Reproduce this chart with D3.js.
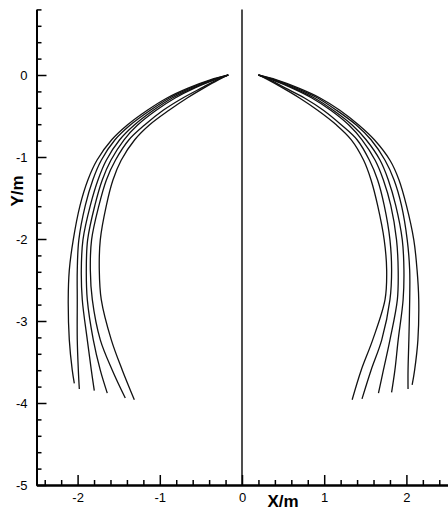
<!DOCTYPE html>
<html>
<head>
<meta charset="utf-8">
<script src="https://cdn.jsdelivr.net/npm/d3@7"></script>
<style>
  html, body { margin: 0; padding: 0; background: #fff; }
  svg { display: block; }
  text { font-family: "Liberation Sans", Arial, sans-serif; fill: #000; }
</style>
</head>
<body>
<svg id="chart" width="448" height="515"></svg>
<script>
// ---- data ----
const xMajorTicks = [-2, -1, 0, 1, 2];
const yMajorTicks = [-5, -4, -3, -2, -1, 0];
const xTickLabels = ["-2", "-1", "0", "1", "2"];
const yTickLabels = ["-5", "-4", "-3", "-2", "-1", "0"];

// shared Y levels (m) along each curve, followed by each curve's own end point
const yLevels = [0, -0.06, -0.16, -0.28, -0.43, -0.61, -0.79, -1.04, -1.28, -1.59, -2.01, -2.38, -2.74, -3.23, -3.6];

// left-hand family (X values at each Y level)
const leftA = [-0.167, -0.386, -0.656, -0.912, -1.152, -1.395, -1.585, -1.765, -1.875, -1.970, -2.053, -2.101, -2.114, -2.101, -2.065];
const leftB = [-0.167, -0.366, -0.629, -0.882, -1.116, -1.359, -1.545, -1.712, -1.815, -1.906, -1.985, -2.004, -2.004, -2.004, -1.991];
const leftC = [-0.167, -0.349, -0.599, -0.848, -1.079, -1.310, -1.488, -1.651, -1.752, -1.845, -1.935, -1.955, -1.943, -1.882, -1.833];
const leftD = [-0.167, -0.335, -0.579, -0.814, -1.044, -1.270, -1.435, -1.595, -1.700, -1.790, -1.878, -1.894, -1.882, -1.809, -1.724];
const leftE = [-0.167, -0.303, -0.496, -0.720, -0.959, -1.185, -1.375, -1.540, -1.650, -1.740, -1.830, -1.845, -1.821, -1.724, -1.578];
const leftF = [-0.167, -0.288, -0.467, -0.667, -0.888, -1.127, -1.305, -1.470, -1.570, -1.650, -1.724, -1.736, -1.712, -1.590, -1.456];
const leftEndX = [-2.040, -1.979, -1.797, -1.639, -1.420, -1.310];
const leftEndY = [-3.76, -3.83, -3.85, -3.88, -3.94, -3.96];

// right-hand family
const rightA = [0.20, 0.42, 0.69, 0.95, 1.19, 1.42, 1.61, 1.80, 1.91, 2.00, 2.09, 2.13, 2.15, 2.14, 2.10];
const rightB = [0.20, 0.40, 0.66, 0.92, 1.15, 1.39, 1.57, 1.74, 1.85, 1.94, 2.01, 2.04, 2.04, 2.03, 2.02];
const rightC = [0.20, 0.38, 0.63, 0.88, 1.11, 1.34, 1.51, 1.68, 1.78, 1.87, 1.95, 1.97, 1.96, 1.90, 1.86];
const rightD = [0.20, 0.37, 0.61, 0.85, 1.08, 1.30, 1.46, 1.62, 1.72, 1.81, 1.88, 1.90, 1.89, 1.80, 1.72];
const rightE = [0.20, 0.34, 0.53, 0.76, 0.99, 1.21, 1.40, 1.55, 1.65, 1.73, 1.80, 1.82, 1.80, 1.70, 1.57];
const rightF = [0.20, 0.32, 0.50, 0.70, 0.92, 1.15, 1.33, 1.48, 1.57, 1.65, 1.73, 1.76, 1.74, 1.59, 1.45];
const rightEndX = [2.07, 2.02, 1.82, 1.66, 1.46, 1.34];
const rightEndY = [-3.78, -3.83, -3.87, -3.88, -3.95, -3.96];

// ---- chart ----
const svg = d3.select("#chart");
const x = d3.scaleLinear().domain([-2.5, 2.5]).range([36.5, 447.5]);
const y = d3.scaleLinear().domain([-5, 0.8]).range([485, 9.4]);

function buildCurve(xs, endX, endY) {
  const pts = yLevels.map((yy, i) => [xs[i], yy]);
  pts.push([endX, endY]);
  return pts;
}
const leftSets = [leftA, leftB, leftC, leftD, leftE, leftF];
const rightSets = [rightA, rightB, rightC, rightD, rightE, rightF];
const curves = [];
leftSets.forEach((xs, i) => curves.push(buildCurve(xs, leftEndX[i], leftEndY[i])));
rightSets.forEach((xs, i) => curves.push(buildCurve(xs, rightEndX[i], rightEndY[i])));

const line = d3.line().x(d => x(d[0])).y(d => y(d[1])).curve(d3.curveCatmullRom.alpha(0.5));

svg.append("g").selectAll("path").data(curves).join("path")
  .attr("d", line)
  .attr("fill", "none")
  .attr("stroke", "#111")
  .attr("stroke-width", 1.3);

// vertical line at X = 0
svg.append("line")
  .attr("x1", x(0)).attr("x2", x(0))
  .attr("y1", y(0.8)).attr("y2", y(-5))
  .attr("stroke", "#222").attr("stroke-width", 1.6);

// minor ticks
const xMinor = d3.range(-24, 25, 2).map(v => v / 10).filter(v => !xMajorTicks.includes(v));
const yMinor = d3.range(-50, 9, 2).map(v => v / 10).filter(v => !yMajorTicks.includes(v));

const xAxisMinor = svg.append("g").attr("transform", `translate(0,${y(-5)})`)
  .call(d3.axisBottom(x).tickValues(xMinor).tickSizeInner(-5).tickSizeOuter(0).tickFormat(""));
const yAxisMinor = svg.append("g").attr("transform", `translate(${x(-2.5)},0)`)
  .call(d3.axisLeft(y).tickValues(yMinor).tickSizeInner(-5).tickSizeOuter(0).tickFormat(""));

const xAxis = svg.append("g").attr("transform", `translate(0,${y(-5)})`)
  .call(d3.axisBottom(x).tickValues(xMajorTicks).tickSizeInner(-10).tickSizeOuter(0)
    .tickPadding(8).tickFormat((d, i) => xTickLabels[i]));
const yAxis = svg.append("g").attr("transform", `translate(${x(-2.5)},0)`)
  .call(d3.axisLeft(y).tickValues(yMajorTicks).tickSizeInner(-10).tickSizeOuter(0)
    .tickPadding(9).tickFormat((d, i) => yTickLabels[i]));

[xAxisMinor, yAxisMinor, xAxis, yAxis].forEach(g => {
  g.selectAll(".domain").attr("stroke", "#000").attr("stroke-width", 2);
  g.selectAll(".tick line").attr("stroke", "#000").attr("stroke-width", 1.5);
  g.selectAll("text").attr("font-size", 13).attr("font-family", "Liberation Sans, Arial, sans-serif").attr("fill", "#000");
});

// axis titles
svg.append("text")
  .attr("x", 283).attr("y", 507)
  .attr("text-anchor", "middle")
  .attr("font-size", 17).attr("font-weight", "bold")
  .text("X/m");
svg.append("text")
  .attr("transform", "translate(23,191) rotate(-90)")
  .attr("text-anchor", "middle")
  .attr("font-size", 17).attr("font-weight", "bold")
  .text("Y/m");
</script>
</body>
</html>
